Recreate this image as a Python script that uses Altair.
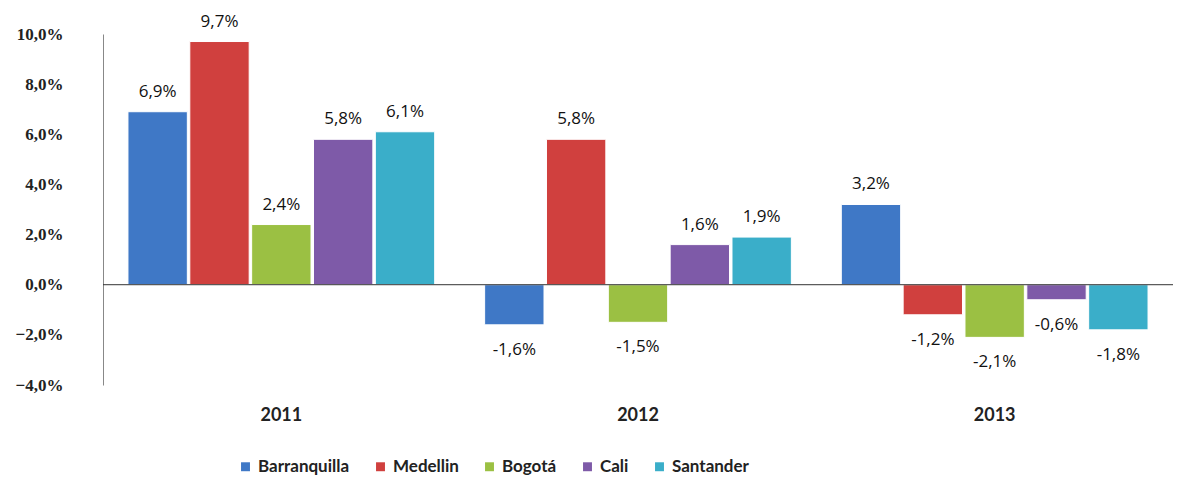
import altair as alt
import pandas as pd

years = ["2011", "2012", "2013"]
cities = ["Barranquilla", "Medellin", "Bogotá", "Cali", "Santander"]
colors = ["#3F78C6", "#D0403E", "#9BC043", "#7E5AA8", "#3AAEC9"]
v2011 = [6.9, 9.7, 2.4, 5.8, 6.1]
v2012 = [-1.6, 5.8, -1.5, 1.6, 1.9]
v2013 = [3.2, -1.2, -2.1, -0.6, -1.8]

rows = []
for y, vals in zip(years, [v2011, v2012, v2013]):
    for c, v in zip(cities, vals):
        rows.append({"year": y, "city": c, "value": v,
                     "label": f"{v:.1f}%".replace(".", ",")})
df = pd.DataFrame(rows)

x = alt.X("year:N", sort=years, title=None,
          scale=alt.Scale(paddingInner=0.14, paddingOuter=0.07),
          axis=alt.Axis(labelAngle=0, domain=False, ticks=False, labelPadding=21,
                        labelFont="Lato", labelFontSize=18,
                        labelFontWeight="bold", labelColor="#222222"))
xo = alt.XOffset("city:N", sort=cities, scale=alt.Scale(paddingInner=0.04))
yenc = alt.Y("value:Q", title=None,
             scale=alt.Scale(domain=[-4, 10], nice=False),
             axis=alt.Axis(values=[-4, -2, 0, 2, 4, 6, 8, 10], grid=False, ticks=False,
                           labelExpr="replace(format(datum.value, '.1f'), '.', ',') + '%'",
                           labelFont="Liberation Serif", labelFontSize=17,
                           labelFontWeight="bold", labelColor="#222222",
                           labelPadding=40, domainColor="#888888"))
color = alt.Color("city:N", sort=cities,
                  scale=alt.Scale(domain=cities, range=colors),
                  legend=alt.Legend(title=None, orient="none", direction="horizontal",
                                    legendX=134, legendY=424, symbolType="square",
                                    symbolSize=80, labelFontSize=17, labelFont="Lato",
                                    labelFontWeight="bold",
                                    labelColor="#222222", columnPadding=22,
                                    symbolStrokeWidth=0))

base = alt.Chart(df)
bars = base.mark_bar(stroke="white", strokeWidth=1).encode(x=x, xOffset=xo, y=yenc, color=color)
zero = alt.Chart(pd.DataFrame({"z": [0]})).mark_rule(color="#333333", strokeWidth=1).encode(y="z:Q")
pos = base.transform_filter("datum.value >= 0").mark_text(
    baseline="middle", dy=-20, fontSize=17, font="Open Sans", color="#111111"
).encode(x=x, xOffset=xo, y=yenc, text="label:N")
neg = base.transform_filter("datum.value < 0").mark_text(
    baseline="middle", dy=25, fontSize=17, font="Open Sans", color="#111111"
).encode(x=x, xOffset=xo, y=yenc, text="label:N")

chart = alt.layer(bars, zero, pos, neg).properties(
    width=1070, height=351,
    autosize=alt.AutoSizeParams(type="none"),
    padding={"left": 95, "top": 26, "right": 0, "bottom": 93},
).configure_view(stroke=None)

chart.save("out.html", embed_options={"renderer": "svg", "actions": False})
